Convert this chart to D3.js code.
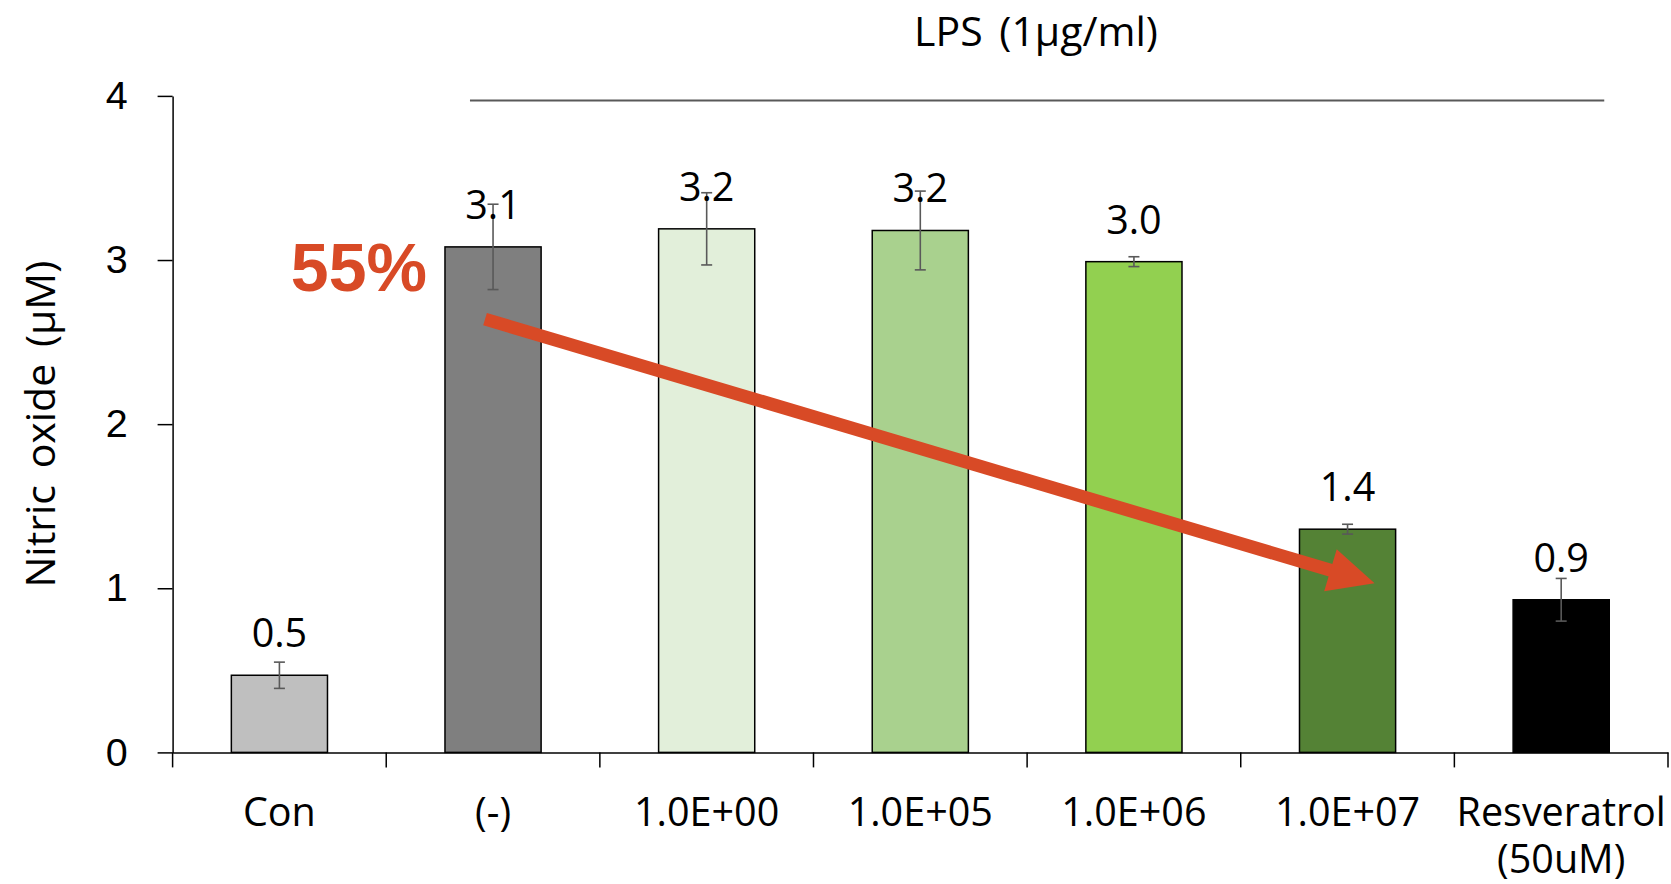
<!DOCTYPE html>
<html>
<head>
<meta charset="utf-8">
<script src="https://cdn.jsdelivr.net/npm/d3@7"></script>
<style>
  html, body { margin: 0; padding: 0; background: #fff; }
  svg { display: block; font-family: "Open Sans", "Noto Sans", sans-serif; }
</style>
</head>
<body>
<svg id="chart" width="1671" height="884"></svg>
<script>
// data
const categories = ["Con", "(-)", "1.0E+00", "1.0E+05", "1.0E+06", "1.0E+07", "Resveratrol"];
const catLines = [["Con"], ["(-)"], ["1.0E+00"], ["1.0E+05"], ["1.0E+06"], ["1.0E+07"], ["Resveratrol", "(50uM)"]];
const values = [0.47, 3.08, 3.19, 3.18, 2.99, 1.36, 0.93];
const errors = [0.08, 0.26, 0.22, 0.24, 0.03, 0.03, 0.13];
const labels = ["0.5", "3.1", "3.2", "3.2", "3.0", "1.4", "0.9"];
const colors = ["#bfbfbf", "#7f7f7f", "#e2efda", "#a9d18e", "#92d050", "#548235", "#000000"];
const yTicks = [0, 1, 2, 3, 4];

var svg = d3.select("#chart");

var x = d3.scaleBand()
    .domain(categories)
    .range([172.6, 1668])
    .paddingInner(0.55)
    .paddingOuter(0.275);

var y = d3.scaleLinear()
    .domain([0, 4])
    .range([752.4, 95.9]);

var fontSize = 39.5;

// y axis
var yAxis = svg.append("g")
    .attr("transform", "translate(172.6,0)")
    .call(d3.axisLeft(y).tickValues(yTicks).tickFormat(d3.format("d"))
        .tickSize(15).tickSizeOuter(0).tickPadding(30));
yAxis.selectAll("text").style("font-size", fontSize + "px").attr("fill", "#000");
yAxis.select(".domain").attr("stroke", "#000").attr("stroke-width", 1.5);
yAxis.selectAll(".tick line").attr("stroke", "#000").attr("stroke-width", 1.5);

// bars
svg.selectAll("rect.bar")
    .data(categories)
    .enter()
    .append("rect")
    .attr("class", "bar")
    .attr("x", d => x(d))
    .attr("y", (d, i) => y(values[i]))
    .attr("width", x.bandwidth())
    .attr("height", (d, i) => y(0) - y(values[i]))
    .attr("fill", (d, i) => colors[i])
    .attr("stroke", "#000")
    .attr("stroke-width", 1.5);

// error bars
var err = svg.append("g").attr("stroke", "#595959").attr("stroke-width", 1.6);
categories.forEach((c, i) => {
    var cx = x(c) + x.bandwidth() / 2;
    var hi = y(values[i] + errors[i]);
    var lo = y(values[i] - errors[i]);
    err.append("line").attr("x1", cx).attr("x2", cx).attr("y1", hi).attr("y2", lo);
    err.append("line").attr("x1", cx - 5.5).attr("x2", cx + 5.5).attr("y1", hi).attr("y2", hi);
    err.append("line").attr("x1", cx - 5.5).attr("x2", cx + 5.5).attr("y1", lo).attr("y2", lo);
});

// x axis: line plus ticks on the category boundaries
var xAxis = svg.append("g")
    .attr("transform", "translate(0," + y(0) + ")")
    .call(d3.axisBottom(x).tickSize(0).tickSizeOuter(0).tickFormat(""));
xAxis.select(".domain").attr("stroke", "#000").attr("stroke-width", 1.5);
d3.range(categories.length + 1).forEach(i => {
    var bx = x.range()[0] + i * x.step();
    xAxis.append("line")
        .attr("x1", bx).attr("x2", bx)
        .attr("y1", 0).attr("y2", 15)
        .attr("stroke", "#000").attr("stroke-width", 1.5);
});

// category labels (the last one wraps onto two lines)
svg.selectAll("text.cat")
    .data(categories)
    .enter()
    .append("text")
    .attr("class", "cat")
    .attr("text-anchor", "middle")
    .style("font-size", fontSize + "px")
    .each(function(d, i) {
        var cx = x(d) + x.bandwidth() / 2;
        d3.select(this).selectAll("tspan")
            .data(catLines[i])
            .enter()
            .append("tspan")
            .attr("x", cx)
            .attr("y", (t, j) => 826 + j * 47)
            .text(t => t);
    });

// value labels
svg.selectAll("text.val")
    .data(categories)
    .enter()
    .append("text")
    .attr("class", "val")
    .attr("x", d => x(d) + x.bandwidth() / 2)
    .attr("y", (d, i) => y(values[i]) - 28)
    .attr("text-anchor", "middle")
    .style("font-size", fontSize + "px")
    .text((d, i) => labels[i]);

// y title
svg.append("text")
    .attr("transform", "translate(41," + (y(2)) + ")rotate(-90)")
    .attr("text-anchor", "middle")
    .attr("dy", "0.35em")
    .style("font-size", "41px")
    .style("word-spacing", "6px")
    .text("Nitric oxide (μM)");

// LPS bracket
svg.append("line")
    .attr("x1", x("(-)") + 25)
    .attr("x2", x("Resveratrol") + x.bandwidth() - 5)
    .attr("y1", y(4) + 4.5)
    .attr("y2", y(4) + 4.5)
    .attr("stroke", "#595959")
    .attr("stroke-width", 2);
svg.append("text")
    .attr("x", 1036)
    .attr("y", 46)
    .attr("text-anchor", "middle")
    .style("font-size", "41px")
    .style("word-spacing", "6px")
    .text("LPS (1μg/ml)");

// 55% annotation with arrow
var orange = "#d84a26";
svg.append("text")
    .attr("x", x("(-)") - 18)
    .attr("y", y(3) + 31)
    .attr("text-anchor", "end")
    .style("font-family", "'Liberation Sans', Arial, sans-serif")
    .style("font-weight", "bold")
    .style("font-size", "68px")
    .attr("fill", orange)
    .text("55%");

var sx = x("(-)") + x.bandwidth() / 2 - 8, sy = y(2.64);
var tx = x("1.0E+07") + x.bandwidth() / 2 + 27, ty = y(1.03);
var ang = Math.atan2(ty - sy, tx - sx);
var headLen = 46, headHalf = 22;
var bx = tx - headLen * Math.cos(ang), by = ty - headLen * Math.sin(ang);
svg.append("line")
    .attr("x1", sx).attr("y1", sy)
    .attr("x2", bx + 2 * Math.cos(ang)).attr("y2", by + 2 * Math.sin(ang))
    .attr("stroke", orange)
    .attr("stroke-width", 13);
svg.append("polygon")
    .attr("points", [
        [tx, ty],
        [bx - headHalf * Math.sin(ang), by + headHalf * Math.cos(ang)],
        [bx + headHalf * Math.sin(ang), by - headHalf * Math.cos(ang)]
    ].map(p => p.join(",")).join(" "))
    .attr("fill", orange);
</script>
</body>
</html>
